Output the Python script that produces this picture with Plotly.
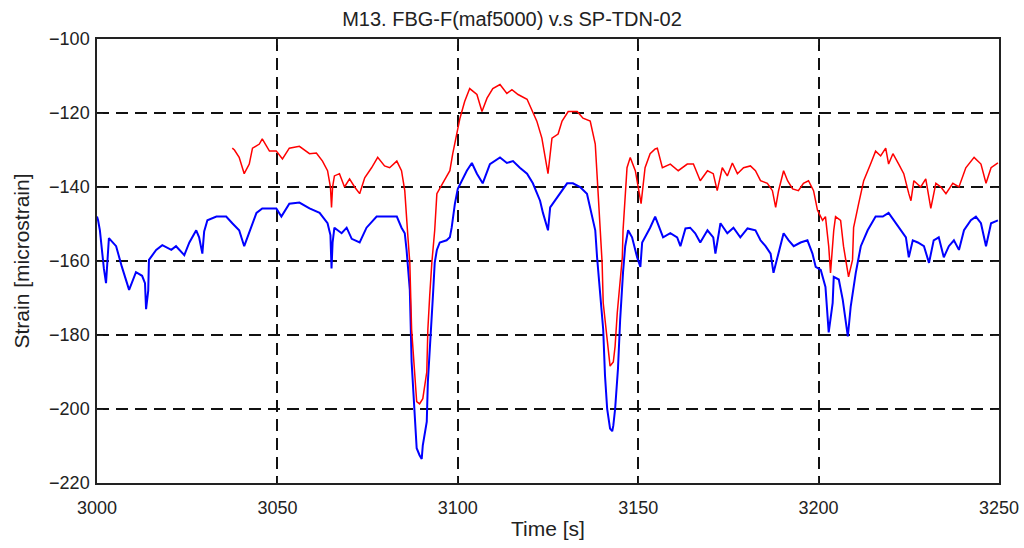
import plotly.graph_objects as go

# FBG-F (blue), sampled by eye from the reference
t_fbg = [3000, 3000.3, 3000.8, 3001.4, 3001.9, 3002.5, 3002.8, 3003.3, 3005.3, 3006.9,
         3008.9, 3010.8, 3012.5, 3013.3, 3013.6, 3014.2, 3014.4, 3016.4, 3018.1, 3020.6,
         3021.9, 3024.2, 3025.6, 3027.5, 3028.3, 3029.2, 3029.7, 3030.6, 3033.1, 3035.8,
         3037.5, 3039.4, 3040.8, 3042.2, 3044.2, 3045.8, 3049.7, 3051.1, 3053.3, 3056.1,
         3058.9, 3061.7, 3063.9, 3064.7, 3065, 3065.3, 3065.8, 3067.8, 3069.2, 3070.6,
         3072.8, 3074.7, 3077.5, 3080.3, 3083.1, 3084.4, 3085.3, 3085.8, 3086.7, 3087.2,
         3088.1, 3088.6, 3089.4, 3090, 3090.3, 3091.4, 3091.7, 3092.8, 3093.1, 3093.6,
         3094.2, 3095, 3096.9, 3097.8, 3098.3, 3099.2, 3100, 3102.5, 3103.9, 3105.3,
         3106.9, 3108.9, 3111.7, 3113.6, 3115.3, 3117.2, 3119.2, 3120.8, 3122.8, 3123.6,
         3124.4, 3125, 3125.6, 3126.9, 3127.8, 3128.9, 3130.3, 3131.9, 3133.9, 3135.8,
         3137.2, 3138.1, 3138.6, 3139.4, 3140.3, 3140.8, 3141.4, 3142.2, 3142.8, 3143.1,
         3143.6, 3144.4, 3145, 3145.8, 3146.4, 3147.2, 3148.3, 3149.7, 3150.6, 3151.1,
         3152.5, 3153.3, 3154.7, 3156.1, 3156.9, 3158.9, 3160.8, 3161.7, 3163.1, 3164.4,
         3165.8, 3167.2, 3169.2, 3170.8, 3171.4, 3172.8, 3174.7, 3176.4, 3178.3, 3180.3,
         3182.5, 3183.9, 3185.3, 3186.7, 3187.5, 3188.6, 3190.3, 3191.7, 3193.1, 3195,
         3196.9, 3198.3, 3199.2, 3200.6, 3201.9, 3202.8, 3203.3, 3203.9, 3204.2, 3205.6,
         3206.7, 3207.5, 3208.1, 3208.9, 3210.3, 3211.7, 3213.6, 3215.8, 3217.8, 3219.4,
         3220.8, 3222.8, 3224.2, 3225, 3226.1, 3227.5, 3229.2, 3230.6, 3231.9, 3233.3,
         3234.7, 3236.1, 3237.5, 3238.9, 3240.3, 3242.2, 3243.6, 3245, 3246.4, 3247.8,
         3249.7]
s_fbg = [-148, -149, -151.7, -158, -162, -166, -160, -153.8, -156, -161.6,
         -167.8, -163, -164, -166, -173, -168, -159.7, -157, -155.7, -157,
         -156, -158.4, -155, -151.7, -153.6, -158, -152, -149, -148, -148,
         -149.8, -151.7, -156, -152.5, -147, -145.8, -145.8, -148, -144.5, -144.2,
         -145.8, -147, -149.8, -153, -162, -155, -151, -152.5, -151, -154,
         -155, -151, -148, -148, -148, -151, -152.5, -157, -167.8, -187.3,
         -201.8, -210.6, -212.5, -213.5, -209.8, -203.4, -192.7, -176.6, -169.6, -160.5,
         -157, -155, -154.4, -153.6, -151, -144.5, -140.5, -135.6, -133.5, -136.4,
         -139, -133.8, -132, -133.5, -133, -134.8, -136.4, -139, -143.7, -147,
         -150, -151.7, -145.5, -143.7, -142.8, -141, -139, -139, -140, -141.8,
         -148, -151.7, -159, -167.8, -178.5, -191, -200, -205.3, -206, -204.5,
         -200, -189, -175.8, -163, -156, -151.7, -153.6, -159, -161.6, -155,
         -152.5, -151, -148, -151.7, -153.6, -152.5, -153.6, -156, -151.2, -151,
         -152.5, -155, -151.7, -153.6, -158, -149.8, -152.5, -151, -153.6, -151.2,
         -151.7, -154.4, -156, -158, -163.2, -159, -152.5, -154.4, -156, -155,
         -154.4, -158, -161.6, -162.4, -167, -179.3, -175, -171.3, -164.3, -165,
         -170.5, -176, -180.4, -172.3, -163.2, -156, -151.7, -148, -148, -147,
         -149, -151.7, -153.6, -159, -154.4, -155, -156, -160.5, -154.4, -153.6,
         -159, -156, -154.4, -157, -151.7, -149, -148, -149.8, -156, -149.8,
         -149]

# SP-TDN-02 (red)
t_tdn = [3037.5, 3038.1, 3039.4, 3040.8, 3042.2, 3043.1, 3045, 3045.8, 3047.8, 3049.7,
         3051.4, 3053.3, 3056.1, 3058.9, 3060.8, 3062.5, 3063.9, 3064.7, 3065, 3065.3,
         3065.8, 3067.2, 3068.6, 3070, 3071.4, 3072.8, 3074.2, 3076.1, 3077.8, 3079.7,
         3081.1, 3083.1, 3084.4, 3085.3, 3086.1, 3086.7, 3087.2, 3088.1, 3088.6, 3089.4,
         3090.3, 3091.4, 3091.7, 3092.2, 3092.8, 3093.6, 3094.2, 3095.8, 3097.8, 3098.6,
         3099.7, 3100.6, 3101.9, 3103.3, 3105.3, 3106.7, 3108.1, 3109.7, 3111.7, 3113.6,
         3115, 3116.7, 3119.2, 3120.6, 3121.9, 3123.3, 3124.2, 3125, 3126.1, 3127.8,
         3128.9, 3130.6, 3133.1, 3134.7, 3136.7, 3138.1, 3138.9, 3139.4, 3140, 3140.3,
         3141.4, 3142.2, 3143.1, 3143.6, 3144.2, 3144.7, 3145.6, 3145.8, 3146.4, 3146.9,
         3147.8, 3149.2, 3150, 3150.8, 3151.9, 3153.3, 3154.7, 3155.3, 3156.7, 3158.9,
         3161.1, 3163.6, 3165.3, 3167.2, 3169.2, 3170.8, 3171.9, 3173.3, 3174.7, 3176.1,
         3177.5, 3179.2, 3181.1, 3182.5, 3183.9, 3185.8, 3187.2, 3188.1, 3188.9, 3190.3,
         3191.4, 3192.8, 3194.4, 3195.8, 3197.2, 3198.6, 3199.7, 3201.1, 3201.9, 3202.8,
         3203.3, 3204.2, 3204.7, 3206.1, 3206.9, 3208.3, 3209.4, 3209.7, 3211.1, 3212.5,
         3214.4, 3215.8, 3217.2, 3218.6, 3219.4, 3220.6, 3222.2, 3223.6, 3225, 3225.6,
         3226.4, 3228.3, 3229.7, 3231.1, 3232.5, 3233.9, 3235.3, 3237.2, 3238.9, 3240.8,
         3243.1, 3245, 3246.4, 3247.8, 3249.7]
s_tdn = [-129.5, -130, -132, -136.4, -133.8, -129.5, -128.4, -127, -130.3, -130.3,
         -132.4, -129.5, -129, -131, -130.8, -133, -135.6, -140, -145.5, -140,
         -137, -136.4, -140, -137.8, -140, -141.8, -137.5, -134.8, -132, -134.3,
         -134.8, -133, -135.6, -141, -152.5, -160.5, -178.5, -192.7, -198, -198.6,
         -197.2, -190, -178.5, -169.6, -160.5, -151.7, -141.8, -139, -135.6, -131,
         -125.7, -121.4, -116.9, -113.4, -115, -119.6, -116, -113.4, -112.3, -114.7,
         -113.7, -115, -116.3, -119.6, -122.2, -126.8, -132, -136.4, -126.8, -125.7,
         -122.2, -119.6, -119.6, -121.4, -122.2, -128.4, -141.8, -151, -160.5, -171.3,
         -181.2, -188.4, -187.3, -183, -174, -167.8, -159, -151.7, -142, -134.8,
         -132, -135.6, -140, -144.5, -134.8, -131, -129.7, -129.5, -134.8, -133.8,
         -135.6, -133.8, -133.8, -138.3, -135.6, -136.4, -141, -134.8, -137, -133.5,
         -136.4, -134.8, -134.3, -135.6, -138.3, -139, -141, -145.5, -141, -135.6,
         -138.3, -140.5, -141, -139, -138.3, -141, -146.3, -149, -148, -156,
         -163.2, -151.7, -148, -149, -156, -164.3, -159.7, -151, -144.5, -138.3,
         -133.8, -130.3, -131.6, -129.5, -133.8, -131, -133.8, -136.4, -141.8, -143.7,
         -138.3, -140, -137.8, -145.8, -139, -140, -141.8, -139, -140, -134.8,
         -132, -133.8, -139, -134.8, -133.5]

x_ticks = [3000, 3050, 3100, 3150, 3200, 3250]
y_ticks = [-220, -200, -180, -160, -140, -120, -100]

fig = go.Figure()
fig.add_trace(go.Scatter(x=t_fbg, y=s_fbg, mode="lines", line=dict(color="#0000ff", width=2)))
fig.add_trace(go.Scatter(x=t_tdn, y=s_tdn, mode="lines", line=dict(color="#ff0000", width=1.5)))

axis_style = dict(
    showline=True, linecolor="#222222", linewidth=1.5, mirror="ticks",
    ticks="inside", ticklen=6, tickcolor="#222222",
    showgrid=True, gridcolor="#111111", gridwidth=1.6, griddash="12px,7px",
    zeroline=False, tickfont=dict(size=18, color="#222222"), automargin=False,
)

fig.update_layout(
    width=1024, height=548,
    paper_bgcolor="white", plot_bgcolor="white",
    font=dict(family="Liberation Sans, Arial, sans-serif", color="#222222"),
    showlegend=False,
    title=dict(text="M13. FBG-F(maf5000) v.s SP-TDN-02", x=0.5, xanchor="center",
               y=1 - 19 / 548, yanchor="middle", font=dict(size=20)),
    margin=dict(l=97, r=25, t=39, b=65),
    xaxis=dict(range=[3000, 3250], tickvals=x_ticks, ticklabelstandoff=8,
               title=dict(text="Time [s]", font=dict(size=21), standoff=4), **axis_style),
    yaxis=dict(range=[-220, -100], tickvals=y_ticks, ticklabelstandoff=2,
               title=dict(text="Strain [microstrain]", font=dict(size=21), standoff=14), **axis_style),
)

# drop the page's default body margin so the figure sits at the window's corner
fig.write_html("out.html", config={"displayModeBar": False},
               post_script="document.body.style.margin='0px';")
